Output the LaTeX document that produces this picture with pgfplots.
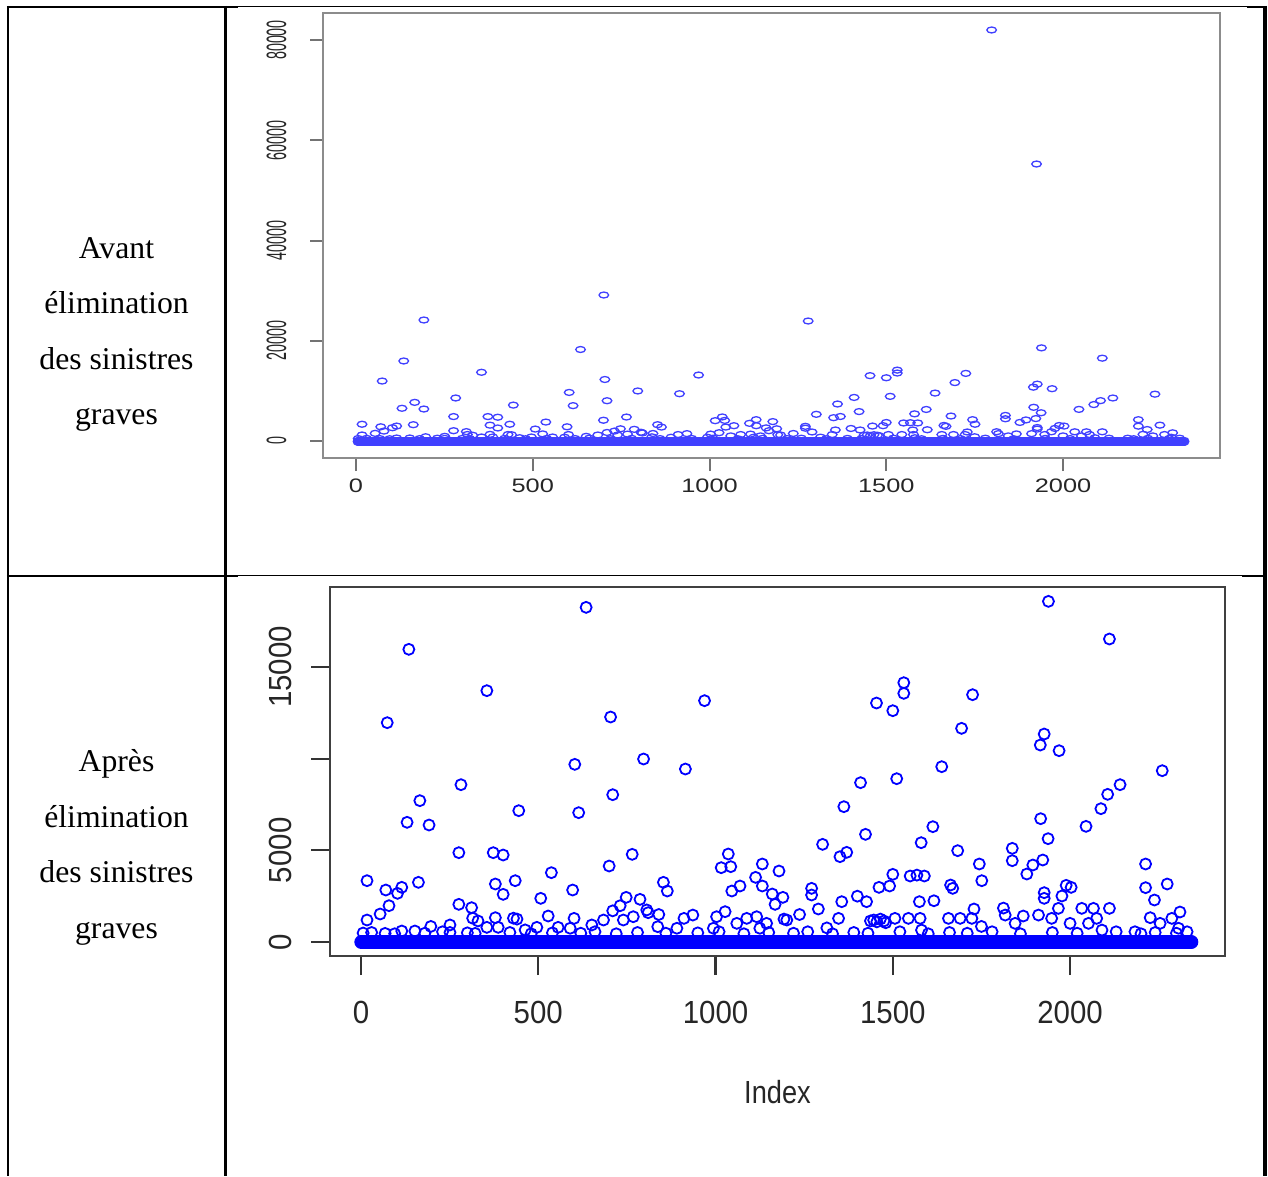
\documentclass[border=0pt]{standalone}
\usepackage{pgfplots}
\pgfplotsset{compat=1.18}
\usepackage{pgfplotstable}
\usepackage{graphicx}
\usepackage{fontspec}
\setmainfont{Liberation Serif}
\newfontfamily\rfont{Liberation Sans}
\definecolor{ptblue}{rgb}{0,0,1}
\definecolor{ptblueA}{rgb}{0.25,0.25,1}
\newcommand\tx[1]{\scalebox{1.3}[1]{#1}}
\newcommand\ty[1]{\scalebox{0.51}[1]{#1}}
\newcommand\bx[1]{\scalebox{0.92}[1]{#1}}

% claims after removal of severe claims (index, amount)
\pgfplotstableread{
idx val
6 490
17 3345
17 1200
30 520
54 1527
68 470
70 2836
74 11964
79 1982
95 450
103 2655
115 2982
115 600
130 6529
135 15965
152 600
162 3255
166 7710
180 480
192 6382
197 850
230 560
251 930
251 520
276 4873
276 2055
282 8582
300 500
312 1873
315 1300
322 470
330 1150
355 13710
355 800
373 4873
379 3164
379 1327
387 800
401 4745
401 2600
420 520
430 1300
435 3345
440 1250
445 7164
463 660
480 450
496 800
507 2382
528 1418
537 3782
540 500
556 800
590 750
597 2836
601 1290
603 9691
614 7055
620 480
635 18255
651 930
660 560
684 1200
700 4145
704 12273
710 8036
710 1700
720 450
731 1980
740 1200
748 2436
765 4782
768 1380
780 520
787 2327
797 9982
806 1750
810 1600
837 836
840 1500
853 3255
860 480
864 2782
891 750
911 1290
915 9436
936 1470
950 500
969 13164
994 750
1003 1380
1010 560
1016 4055
1027 1655
1036 4800
1043 4110
1046 2782
1060 1018
1069 3055
1080 450
1088 1290
1113 3527
1116 1380
1125 750
1132 4255
1132 3055
1144 1018
1150 520
1160 2618
1168 2055
1179 3873
1190 2436
1193 1250
1201 1200
1220 480
1237 1500
1260 560
1271 2927
1271 2564
1290 1800
1302 5327
1314 770
1330 450
1347 1290
1351 4655
1356 2200
1362 7382
1370 4891
1390 520
1400 2500
1409 8691
1423 5873
1426 2200
1430 480
1437 1150
1446 1200
1454 13036
1455 1100
1461 2982
1465 1250
1475 1150
1480 1050
1491 3055
1500 12618
1500 3691
1506 1290
1511 8909
1520 560
1531 14145
1531 13564
1544 1290
1549 3600
1568 3650
1575 2200
1577 1290
1580 5418
1581 650
1589 3600
1600 450
1613 6291
1616 2250
1638 9564
1657 1290
1660 520
1663 3109
1669 2927
1683 4982
1690 1290
1694 11655
1710 480
1723 1290
1725 13491
1729 1800
1744 4255
1750 850
1751 3345
1780 560
1812 1850
1817 1470
1837 5109
1837 4436
1845 1018
1860 450
1868 1418
1878 3709
1895 4200
1911 1470
1916 10745
1917 6727
1923 4473
1927 11345
1927 2691
1927 2382
1938 5636
1939 18582
1948 1290
1950 520
1967 1836
1969 10436
1977 2509
1989 3091
2000 1018
2003 2982
2020 480
2033 1836
2045 6309
2052 1018
2066 1836
2075 1290
2087 7273
2090 650
2106 8055
2111 16527
2111 1836
2130 560
2141 8582
2183 560
2200 450
2213 4255
2213 2964
2226 1327
2238 2291
2240 520
2254 1018
2260 9345
2274 3164
2287 1290
2300 480
2306 750
2310 1636
2330 560
}\apres

% severe claims, present only before elimination
\pgfplotstableread{
idx val
192 24140
701 29127
1279 23940
1798 82000
1925 55262
}\severes

\begin{document}
\begin{tikzpicture}
\useasboundingbox (0,0) rectangle (1268pt,-1176pt);
% table rules
\draw[line width=2.5pt] (8pt,-5.75pt) -- (8pt,-1176pt);
\draw[line width=2.5pt] (225.3pt,-5.75pt) -- (225.3pt,-1176pt);
\draw[line width=3.5pt] (1265pt,-5.75pt) -- (1265pt,-1176pt);
\draw[line width=2.5pt] (6.75pt,-7pt) -- (238pt,-7pt);
\draw[line width=1.2pt] (238pt,-6.6pt) -- (1247pt,-6.6pt);
\draw[line width=2.5pt] (1247pt,-7pt) -- (1266.75pt,-7pt);
\draw[line width=2.2pt] (6.75pt,-576pt) -- (238pt,-576pt);
\draw[line width=1.2pt] (238pt,-575.6pt) -- (1242pt,-575.6pt);
\draw[line width=2.2pt] (1242pt,-576pt) -- (1266.75pt,-576pt);

% row labels
\begin{scope}[every node/.style={anchor=base, inner sep=0pt, font=\fontsize{31.7pt}{38pt}\selectfont}]
\node at (116.5pt,-258pt) {Avant};
\node at (116.5pt,-313.5pt) {élimination};
\node at (116.5pt,-369pt) {des sinistres};
\node at (116.5pt,-424.5pt) {graves};
\node at (116.5pt,-771.5pt) {Après};
\node at (116.5pt,-827pt) {élimination};
\node at (116.5pt,-882.5pt) {des sinistres};
\node at (116.5pt,-938pt) {graves};
\end{scope}

% top plot: before elimination
\begin{axis}[
  at={(323pt,-13pt)}, anchor=north west,
  scale only axis, width=897pt, height=445pt,
  xmin=-93.4, xmax=2444, ymin=-3392, ymax=85387,
  scaled ticks=false,
  axis line style={draw=black!45, line width=2.8pt},
  tick align=outside, tick pos=left,
  major tick length=13pt,
  every tick/.style={draw=black!55, line width=2pt},
  xtick={0,500,1000,1500,2000},
  xticklabels={\tx{0},\tx{500},\tx{1000},\tx{1500},\tx{2000}},
  ytick={0,20000,40000,60000,80000},
  yticklabels={\ty{0},\ty{20000},\ty{40000},\ty{60000},\ty{80000}},
  xticklabel shift=4pt, yticklabel shift=20pt,
  xticklabel style={font=\fontsize{19.5pt}{20pt}\rfont, text=black!85},
  yticklabel style={font=\fontsize{28pt}{28pt}\rfont, text=black!85, rotate=90, anchor=south},
  clip=false,
]
\addplot[ptblueA, line width=9pt, line cap=round] coordinates {(3,0) (2345,0)};
\addplot[only marks, mark=o, mark size=4.8pt, mark options={draw=ptblueA, line width=1.3pt, yscale=0.62}] table[x=idx, y=val] {\apres};
\addplot[only marks, mark=o, mark size=4.8pt, mark options={draw=ptblueA, line width=1.3pt, yscale=0.62}] table[x=idx, y=val] {\severes};
\end{axis}

% bottom plot: after elimination
\begin{axis}[
  at={(330pt,-587pt)}, anchor=north west,
  scale only axis, width=895pt, height=369pt,
  xmin=-87.4, xmax=2437, ymin=-764, ymax=19364,
  scaled ticks=false,
  axis line style={draw=black!75, line width=2.6pt},
  tick align=outside, tick pos=left,
  major tick length=19pt,
  every tick/.style={draw=black!80, line width=2.2pt},
  xtick={0,500,1000,1500,2000},
  xticklabels={\bx{0},\bx{500},\bx{1000},\bx{1500},\bx{2000}},
  ytick={0,5000,10000,15000},
  yticklabels={\bx{0},\bx{5000},,\bx{15000}},
  xticklabel shift=23pt, yticklabel shift=16pt,
  xticklabel style={font=\fontsize{32pt}{32pt}\rfont, text=black!85},
  yticklabel style={font=\fontsize{32pt}{32pt}\rfont, text=black!85, rotate=90, anchor=south},
  xlabel={\scalebox{0.85}[1]{Index}},
  xlabel style={font=\fontsize{32pt}{32pt}\rfont, text=black!85, at={(rel axis cs:0.5,0)}, anchor=base, yshift=-147pt},
  clip=false,
]
\addplot[ptblue, line width=14pt, line cap=round] coordinates {(1,0) (2342,0)};
\addplot[only marks, mark=o, mark size=5.5pt, mark options={draw=ptblue, line width=1.8pt}] table[x=idx, y=val] {\apres};
\end{axis}
\end{tikzpicture}
\end{document}
